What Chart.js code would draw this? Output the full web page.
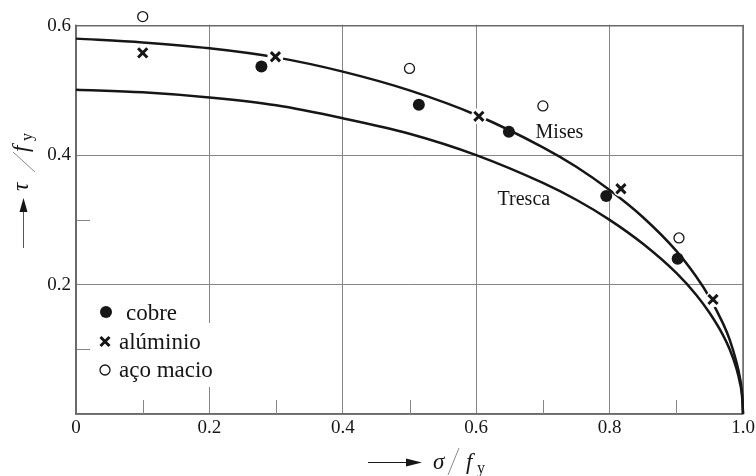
<!DOCTYPE html>
<html>
<head>
<meta charset="utf-8">
<script src="https://cdn.jsdelivr.net/npm/chart.js@4.4.1/dist/chart.umd.min.js"></script>
<style>
  html, body { margin: 0; padding: 0; background: #fff; }
  #wrap { width: 756px; height: 476px; }
</style>
</head>
<body>
<div id="wrap"><canvas id="c" width="756" height="476"></canvas></div>
<script>
// Normalised stress sigma/fy along the yield curves
const sigmaCurve = [0, 0.1, 0.2, 0.3, 0.4, 0.5, 0.6, 0.7, 0.75, 0.8, 0.85, 0.9, 0.93, 0.95, 0.97, 0.98, 0.99, 0.995, 0.999, 1.0];
// von Mises yield curve, tau/fy
const misesTau = [0.580, 0.574, 0.565, 0.551, 0.529, 0.500, 0.462, 0.412, 0.382, 0.346, 0.304, 0.252, 0.212, 0.180, 0.140, 0.115, 0.081, 0.058, 0.026, 0];
// Tresca yield curve, tau/fy
const trescaTau = [0.501, 0.497, 0.489, 0.477, 0.457, 0.433, 0.400, 0.357, 0.331, 0.300, 0.263, 0.218, 0.184, 0.156, 0.122, 0.100, 0.071, 0.050, 0.022, 0];

// Test results
const cobreSigma = [0.278, 0.514, 0.649, 0.795, 0.902];
const cobreTau   = [0.537, 0.478, 0.436, 0.337, 0.240];
const aluSigma   = [0.100, 0.299, 0.604, 0.817, 0.955];
const aluTau     = [0.558, 0.552, 0.460, 0.348, 0.177];
const acoSigma   = [0.100, 0.500, 0.700, 0.904];
const acoTau     = [0.614, 0.534, 0.476, 0.272];

const seriesNames = ['cobre', 'alúminio', 'aço macio'];
const curveNames = ['Mises', 'Tresca'];
const xTicks = [0, 0.2, 0.4, 0.6, 0.8, 1.0];
const yTicks = [0, 0.2, 0.4, 0.6];
const minorX = [0.1, 0.3, 0.5, 0.7, 0.9];
const minorY = [0.1, 0.3, 0.5];
const yFrameTop = 0.6;   // framed part of the plot
const yRoomTop = 0.625;  // headroom so markers above the frame still show

const pts = (xs, ys) => xs.map((x, i) => ({ x: x, y: ys[i] }));

const SERIF = '"Liberation Serif", "DejaVu Serif", serif';
const INK = '#161616';
const GRID = '#858585';
const FRAME = '#6a6a6a';

// Frame, minor ticks, curve labels, legend and axis titles
const decor = {
  id: 'decor',
  beforeDatasetsDraw(chart) {
    const ctx = chart.ctx, a = chart.chartArea;
    const xs = chart.scales.x, ys = chart.scales.y;
    const top = ys.getPixelForValue(yFrameTop);
    ctx.save();
    // blank the headroom strip above the frame
    ctx.fillStyle = '#fff';
    ctx.fillRect(a.left - 2, a.top - 2, a.right - a.left + 4, top - a.top + 1);
    ctx.strokeStyle = GRID;
    ctx.lineWidth = 1;
    minorX.forEach(v => {
      const px = Math.round(xs.getPixelForValue(v)) + 0.5;
      ctx.beginPath(); ctx.moveTo(px, a.bottom); ctx.lineTo(px, a.bottom - 14); ctx.stroke();
    });
    minorY.forEach(v => {
      const py = Math.round(ys.getPixelForValue(v)) + 0.5;
      ctx.beginPath(); ctx.moveTo(a.left, py); ctx.lineTo(a.left + 14, py); ctx.stroke();
    });
    ctx.strokeStyle = FRAME;
    ctx.lineWidth = 1.5;
    ctx.beginPath();
    ctx.moveTo(a.left, a.bottom); ctx.lineTo(a.left, top);
    ctx.lineTo(a.right, top); ctx.lineTo(a.right, a.bottom);
    ctx.stroke();
    ctx.restore();
  },
  afterDatasetsDraw(chart) {
    const ctx = chart.ctx;
    const xs = chart.scales.x, ys = chart.scales.y;
    ctx.save();
    ctx.fillStyle = INK;
    ctx.font = '20px ' + SERIF;
    ctx.textBaseline = 'alphabetic';
    ctx.textAlign = 'left';
    ctx.fillText(curveNames[0], xs.getPixelForValue(0.689), ys.getPixelForValue(0.426));
    ctx.fillText(curveNames[1], xs.getPixelForValue(0.632), ys.getPixelForValue(0.323));

    // legend
    ctx.fillStyle = '#fff';
    ctx.fillRect(92, 323, 132, 64);
    ctx.fillStyle = INK;
    ctx.strokeStyle = INK;
    ctx.beginPath(); ctx.arc(106, 312, 6, 0, Math.PI * 2); ctx.fill();
    ctx.lineWidth = 3;
    ctx.beginPath();
    ctx.moveTo(100.5, 337); ctx.lineTo(109.5, 346);
    ctx.moveTo(109.5, 337); ctx.lineTo(100.5, 346);
    ctx.stroke();
    ctx.lineWidth = 1.3;
    ctx.beginPath(); ctx.arc(105, 370, 5, 0, Math.PI * 2); ctx.stroke();
    ctx.font = '23px ' + SERIF;
    ctx.fillText(seriesNames[0], 126, 320);
    ctx.fillText(seriesNames[1], 119, 349);
    ctx.fillText(seriesNames[2], 119, 377);

    // x axis title
    ctx.lineWidth = 1;
    ctx.beginPath(); ctx.moveTo(368, 462.5); ctx.lineTo(410, 462.5); ctx.stroke();
    ctx.beginPath(); ctx.moveTo(406, 458.5); ctx.lineTo(422, 462.5); ctx.lineTo(406, 466.5); ctx.closePath(); ctx.fill();
    ctx.font = 'italic 23px ' + SERIF;
    ctx.fillText('σ', 433, 469);
    ctx.strokeStyle = '#8a8a8a';
    ctx.beginPath(); ctx.moveTo(448, 475); ctx.lineTo(459, 448); ctx.stroke();
    ctx.fillText('f', 466, 469);
    ctx.font = '16px ' + SERIF;
    ctx.fillText('y', 477, 473);

    // y axis title, reading upwards
    ctx.translate(23, 248);
    ctx.rotate(-Math.PI / 2);
    ctx.strokeStyle = '#555';
    ctx.beginPath(); ctx.moveTo(0, 0.5); ctx.lineTo(40, 0.5); ctx.stroke();
    ctx.fillStyle = INK;
    ctx.beginPath(); ctx.moveTo(36, -3.5); ctx.lineTo(50, 0.5); ctx.lineTo(36, 4.5); ctx.closePath(); ctx.fill();
    ctx.font = 'italic 23px ' + SERIF;
    ctx.fillText('τ', 57, 5);
    ctx.strokeStyle = '#8a8a8a';
    ctx.beginPath(); ctx.moveTo(76, 12); ctx.lineTo(96, -10); ctx.stroke();
    ctx.fillText('f', 96, 5);
    ctx.font = '16px ' + SERIF;
    ctx.fillText('y', 107, 9);
    ctx.restore();
  }
};

new Chart(document.getElementById('c'), {
  type: 'scatter',
  data: {
    datasets: [
      {
        label: seriesNames[0], data: pts(cobreSigma, cobreTau), order: 1,
        pointStyle: 'circle', pointRadius: 6, pointBackgroundColor: INK, pointBorderColor: INK, pointBorderWidth: 0, clip: false
      },
      {
        label: seriesNames[1], data: pts(aluSigma, aluTau), order: 1,
        pointStyle: 'crossRot', pointRadius: 6.5, pointBorderColor: INK, pointBorderWidth: 3, clip: false
      },
      {
        label: seriesNames[2], data: pts(acoSigma, acoTau), order: 1,
        pointStyle: 'circle', pointRadius: 5, pointBackgroundColor: '#fff', pointBorderColor: INK, pointBorderWidth: 1.3, clip: false
      },
      {
        label: 'halo', data: pts(aluSigma, aluTau), order: 2,
        pointStyle: 'circle', pointRadius: 8, pointBackgroundColor: '#fff', pointBorderWidth: 0, clip: false
      },
      {
        label: curveNames[0], data: pts(sigmaCurve, misesTau), order: 3, showLine: true,
        borderColor: INK, borderWidth: 2.5, pointRadius: 0, cubicInterpolationMode: 'monotone', clip: false
      },
      {
        label: curveNames[1], data: pts(sigmaCurve, trescaTau), order: 3, showLine: true,
        borderColor: INK, borderWidth: 2.5, pointRadius: 0, cubicInterpolationMode: 'monotone', clip: false
      }
    ]
  },
  options: {
    responsive: false,
    animation: false,
    events: [],
    layout: { padding: { left: 0, top: 7.75, right: 13, bottom: 0 } },
    plugins: { legend: { display: false }, tooltip: { enabled: false } },
    scales: {
      x: {
        type: 'linear', min: 0, max: 1,
        afterFit: s => { s.height = 62; s.paddingLeft = 0; s.paddingRight = 0; },
        afterBuildTicks: s => { s.ticks = xTicks.map(v => ({ value: v })); },
        grid: { color: GRID, lineWidth: 1, drawTicks: false },
        border: { color: FRAME, width: 1.5 },
        ticks: {
          padding: 3, color: INK, font: { family: SERIF, size: 19 },
          maxRotation: 0, autoSkip: false,
          callback: v => (v === 0 ? '0' : v.toFixed(1))
        }
      },
      y: {
        type: 'linear', min: 0, max: yRoomTop,
        afterFit: s => { s.width = 76; s.paddingTop = 0; s.paddingBottom = 0; },
        afterBuildTicks: s => { s.ticks = yTicks.map(v => ({ value: v })); },
        grid: { color: GRID, lineWidth: 1, drawTicks: false },
        border: { color: FRAME, width: 1.5 },
        ticks: {
          padding: 5, color: INK, font: { family: SERIF, size: 19 },
          autoSkip: false,
          callback: v => (v === 0 ? '' : v.toFixed(1))
        }
      }
    }
  },
  plugins: [decor]
});
</script>
</body>
</html>
